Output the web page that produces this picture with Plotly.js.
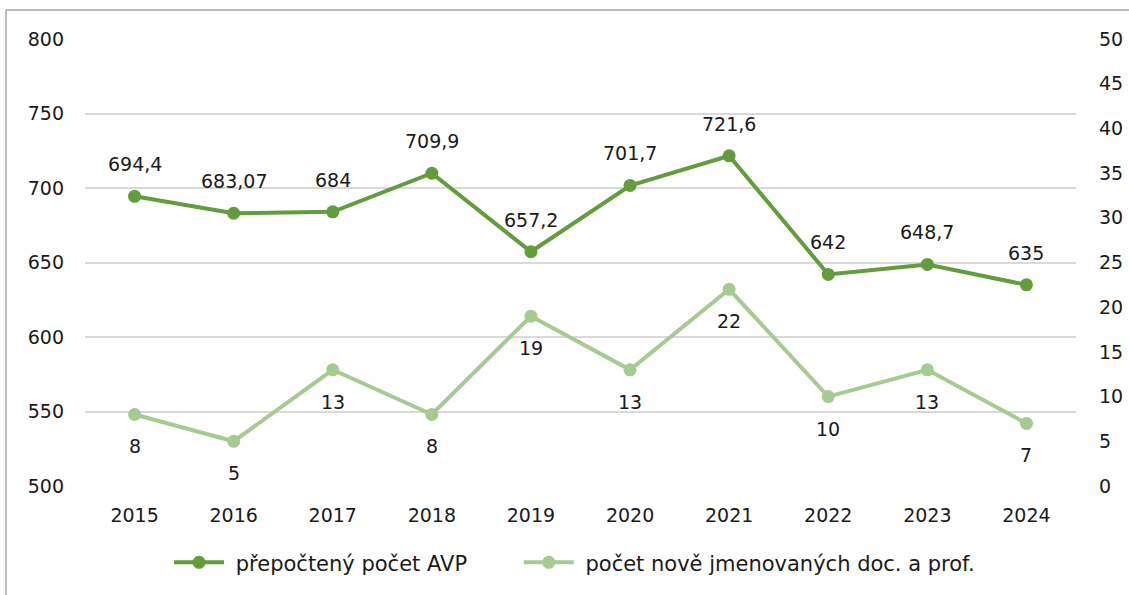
<!DOCTYPE html>
<html>
<head>
<meta charset="utf-8">
<script src="https://cdn.plot.ly/plotly-3.0.1.min.js"></script>
<style>html,body{margin:0;padding:0;background:#fff;}#chart{width:1129px;height:595px;}</style>
</head>
<body>
<div id="chart"></div>
<script>
const years = ['2015','2016','2017','2018','2019','2020','2021','2022','2023','2024'];
const avp = [694.4, 683.07, 684, 709.9, 657.2, 701.7, 721.6, 642, 648.7, 635];
const avpLabels = ['694,4','683,07','684','709,9','657,2','701,7','721,6','642','648,7','635'];
const novi = [8, 5, 13, 8, 19, 13, 22, 10, 13, 7];
const noviLabels = ['8','5','13','8','19','13','22','10','13','7'];
const seriesNames = ['přepočtený počet AVP', 'počet nově jmenovaných doc. a prof.'];
const leftTicks = [500, 550, 600, 650, 700, 750, 800];
const rightTicks = [0, 5, 10, 15, 20, 25, 30, 35, 40, 45, 50];

const dark = '#629c3c';
const light = '#a7c992';
const fontFam = '"DejaVu Sans", sans-serif';
const txt = '#1a1a1a';
const NB = '\u00a0';

const traces = [
  {x: years, y: avp, name: NB + seriesNames[0] + NB.repeat(7), type: 'scatter', mode: 'lines+markers',
   line: {color: dark, width: 4}, marker: {color: dark, size: 13}, yaxis: 'y'},
  {x: years, y: novi, name: NB + seriesNames[1], type: 'scatter', mode: 'lines+markers',
   line: {color: light, width: 4}, marker: {color: light, size: 13}, yaxis: 'y2'}
];

const annotations = [];
years.forEach((yr, i) => {
  annotations.push({x: i, y: avp[i], xref: 'x', yref: 'y', text: avpLabels[i], showarrow: false,
    yshift: 32, font: {size: 19, color: txt, family: fontFam}});
  annotations.push({x: i, y: novi[i], xref: 'x', yref: 'y2', text: noviLabels[i], showarrow: false,
    yshift: -32, font: {size: 19, color: txt, family: fontFam}});
});

const layout = {
  width: 1129, height: 595,
  margin: {l: 85, r: 53, t: 39, b: 107},
  paper_bgcolor: '#fff', plot_bgcolor: '#fff',
  font: {family: fontFam, size: 19, color: txt},
  showlegend: true,
  legend: {orientation: 'h', x: 0.494, xanchor: 'center', y: -0.1715, yanchor: 'middle',
    font: {size: 21, family: fontFam}, itemwidth: 50},
  xaxis: {type: 'category', range: [-0.5, years.length - 0.5], showgrid: false, zeroline: false, showline: false,
    ticks: '', tickfont: {size: 19}, ticklabelstandoff: 16},
  yaxis: {range: [500, 800], tickvals: leftTicks, showgrid: true, gridcolor: '#d9d9d9', gridwidth: 2,
    zeroline: false, showline: false, ticks: '', tickfont: {size: 19}, ticklabelstandoff: 20},
  yaxis2: {range: [0, 50], tickvals: rightTicks, overlaying: 'y', side: 'right', showgrid: false,
    zeroline: false, showline: false, ticks: '', tickfont: {size: 19}, ticklabelstandoff: 22},
  annotations: annotations,
  shapes: [
    {type: 'line', xref: 'paper', yref: 'paper', x0: -0.0797, x1: -0.0797, y0: -0.3, y1: 1.0646,
     line: {color: '#a6a6a6', width: 1.5}},
    {type: 'line', xref: 'paper', yref: 'paper', x0: -0.0797, x1: 1.06, y0: 1.0646, y1: 1.0646,
     line: {color: '#a6a6a6', width: 1.5}}
  ]
};

Plotly.newPlot('chart', traces, layout, {displayModeBar: false, staticPlot: true});
</script>
</body>
</html>
